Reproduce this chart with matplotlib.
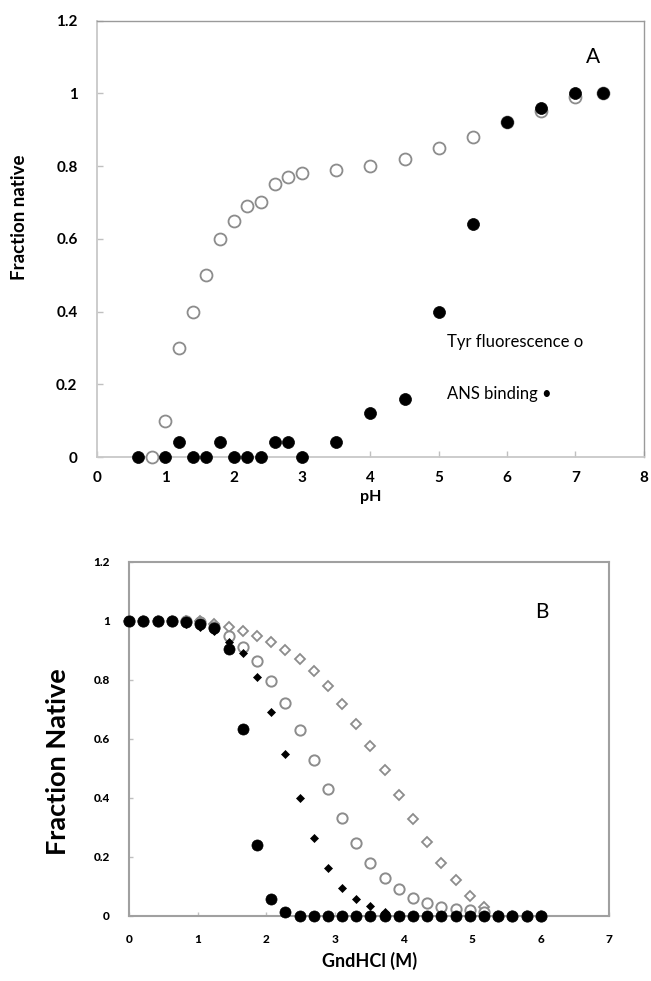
import matplotlib
matplotlib.use("Agg")
import matplotlib.pyplot as plt

plt.rcParams['font.family'] = ['Lato', 'DejaVu Sans']

# ---------------- Panel A data ----------------
ph_tyr = [0.8, 1.0, 1.2, 1.4, 1.6, 1.8, 2.0, 2.2, 2.4, 2.6, 2.8, 3.0, 3.5, 4.0, 4.5,
          5.0, 5.5, 6.0, 6.5, 7.0, 7.4]
tyr_frac = [0.0, 0.10, 0.30, 0.40, 0.50, 0.60, 0.65, 0.69, 0.70, 0.75, 0.77, 0.78, 0.79,
            0.80, 0.82, 0.85, 0.88, 0.92, 0.95, 0.99, 1.0]
ph_ans = [0.6, 1.0, 1.2, 1.4, 1.6, 1.8, 2.0, 2.2, 2.4, 2.6, 2.8, 3.0, 3.5, 4.0, 4.5,
          5.0, 5.5, 6.0, 6.5, 7.0, 7.4]
ans_frac = [0.0, 0.0, 0.04, 0.0, 0.0, 0.04, 0.0, 0.0, 0.0, 0.04, 0.04, 0.0, 0.04, 0.12,
            0.16, 0.40, 0.64, 0.92, 0.96, 1.0, 1.0]
a_xticks = [0, 1, 2, 3, 4, 5, 6, 7, 8]
a_yticks = [0, 0.2, 0.4, 0.6, 0.8, 1.0, 1.2]
a_yticklabels = ["0", "0.2", "0.4", "0.6", "0.8", "1", "1.2"]

# ---------------- Panel B data ----------------
gdn = [0.0, 0.207, 0.414, 0.621, 0.828, 1.034, 1.241, 1.448, 1.655, 1.862, 2.069, 2.276,
       2.483, 2.690, 2.897, 3.103, 3.310, 3.517, 3.724, 3.931, 4.138, 4.345, 4.552,
       4.759, 4.966, 5.172, 5.379, 5.586, 5.793, 6.0]
filled_circles = [1.0, 1.0, 1.0, 1.0, 0.995, 0.99, 0.975, 0.905, 0.635, 0.24, 0.057, 0.012,
                  0, 0, 0, 0, 0, 0, 0, 0, 0, 0, 0, 0, 0, 0, 0, 0, 0, 0]
filled_diamonds = [1.0, 1.0, 1.0, 1.0, 0.99, 0.98, 0.965, 0.93, 0.89, 0.81, 0.69, 0.55,
                   0.40, 0.264, 0.162, 0.094, 0.057, 0.034, 0.012, 0, 0, 0, 0, 0, 0, 0,
                   0, 0, 0, 0]
open_circles = [1.0, 1.0, 1.0, 1.0, 1.0, 0.995, 0.98, 0.95, 0.91, 0.863, 0.797, 0.723,
                0.63, 0.53, 0.43, 0.332, 0.247, 0.181, 0.13, 0.091, 0.062, 0.043, 0.032,
                0.023, 0.02, 0.015, 0, 0, 0, 0]
open_diamonds = [1.0, 1.0, 1.0, 1.0, 1.0, 1.0, 0.99, 0.98, 0.965, 0.95, 0.93, 0.90, 0.87,
                 0.83, 0.78, 0.72, 0.65, 0.576, 0.494, 0.41, 0.329, 0.25, 0.18, 0.122,
                 0.068, 0.03, 0, 0, 0, 0]
b_xticks = [0, 1, 2, 3, 4, 5, 6, 7]
b_yticks = [0, 0.2, 0.4, 0.6, 0.8, 1.0, 1.2]
b_yticklabels = ["0", "0.2", "0.4", "0.6", "0.8", "1", "1.2"]

fig = plt.figure(figsize=(6.51, 9.81), dpi=100)

# ================= Panel A =================
axA = fig.add_axes([0.149, 0.5341, 0.840, 0.4450])
axA.plot(ph_tyr, tyr_frac, linestyle='none', marker='o', markersize=8.6,
         markerfacecolor='white', markeredgecolor='#8c8c8c', markeredgewidth=1.3,
         clip_on=False, zorder=3)
axA.plot(ph_ans, ans_frac, linestyle='none', marker='o', markersize=8.6,
         markerfacecolor='black', markeredgecolor='black', markeredgewidth=0.5,
         clip_on=False, zorder=4)
axA.set_xlim(0, 8)
axA.set_ylim(0, 1.2)
axA.set_xticks(a_xticks)
axA.set_xticklabels([str(t) for t in a_xticks], fontweight='bold', fontsize=11)
axA.set_yticks(a_yticks)
axA.set_yticklabels(a_yticklabels, fontweight='bold', fontsize=11)
axA.tick_params(axis='both', direction='in', length=4, color='#c0c0c0', width=1)
axA.tick_params(axis='y', pad=14)
axA.tick_params(axis='x', pad=10)
for side in ['left', 'bottom']:
    axA.spines[side].set_color('#c8c8c8')
    axA.spines[side].set_linewidth(1.3)
for side in ['top', 'right']:
    axA.spines[side].set_color('#9a9a9a')
    axA.spines[side].set_linewidth(1.0)
axA.set_xlabel('pH', fontweight='bold', fontsize=11.5, labelpad=4)
axA.set_ylabel('Fraction native', fontweight='bold', fontsize=13.5)
axA.yaxis.set_label_coords(-0.126, 0.549)
axA.text(7.25, 1.10, 'A', fontsize=15, ha='center', va='center')
axA.text(5.12, 0.316, 'Tyr fluorescence o', fontsize=12, ha='left', va='center')
axA.text(5.12, 0.173, 'ANS binding \u2022', fontsize=12, ha='left', va='center')

# ================= Panel B =================
axB = fig.add_axes([0.1986, 0.0663, 0.7373, 0.3609])
axB.plot(gdn, open_diamonds, linestyle='none', marker='D', markersize=4.6,
         markerfacecolor='white', markeredgecolor='#8c8c8c', markeredgewidth=1.3,
         clip_on=False, zorder=2)
axB.plot(gdn, open_circles, linestyle='none', marker='o', markersize=7.4,
         markerfacecolor='white', markeredgecolor='#8c8c8c', markeredgewidth=1.4,
         clip_on=False, zorder=3)
axB.plot(gdn, filled_diamonds, linestyle='none', marker='D', markersize=4.4,
         markerfacecolor='black', markeredgecolor='black', markeredgewidth=0.5,
         clip_on=False, zorder=4)
axB.plot(gdn, filled_circles, linestyle='none', marker='o', markersize=8.0,
         markerfacecolor='black', markeredgecolor='black', markeredgewidth=0.5,
         clip_on=False, zorder=5)
axB.set_xlim(0, 7)
axB.set_ylim(0, 1.2)
axB.set_xticks(b_xticks)
axB.set_xticklabels([str(t) for t in b_xticks], fontweight='black', fontsize=8.5)
axB.set_yticks(b_yticks)
axB.set_yticklabels(b_yticklabels, fontweight='black', fontsize=8.5)
axB.tick_params(axis='both', direction='in', length=3, color='#c0c0c0', width=1)
axB.tick_params(axis='y', pad=14)
axB.tick_params(axis='x', pad=13)
for side in ['left', 'bottom', 'top', 'right']:
    axB.spines[side].set_color('#a0a0a0')
    axB.spines[side].set_linewidth(1.5)
axB.set_xlabel('GndHCl (M)', fontweight='bold', fontsize=13, labelpad=5)
axB.set_ylabel('Fraction Native', fontweight='bold', fontsize=19.5)
axB.yaxis.set_label_coords(-0.1235, 0.436)
axB.text(6.02, 1.03, 'B', fontsize=15, ha='center', va='center')

fig.savefig('out.png', dpi=100)
